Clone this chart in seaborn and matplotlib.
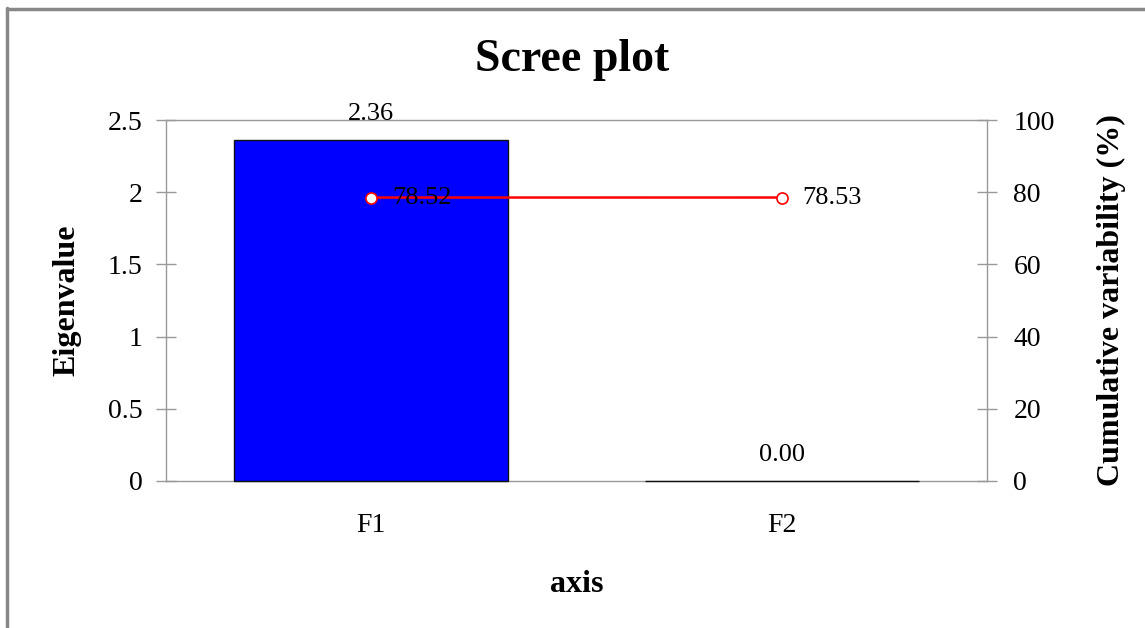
import matplotlib
matplotlib.use("Agg")
import matplotlib.pyplot as plt
import seaborn as sns
import numpy as np
import pandas as pd
from matplotlib.lines import Line2D

# ---- data ----
factors = ["F1", "F2"]
eigenvalues = [2.36, 0.00]
cumulative_pct = [78.52, 78.53]
eig_labels = ["2.36", "0.00"]
cum_labels = ["78.52", "78.53"]

sns.set_theme(style="white")
plt.rcParams["font.family"] = ["Liberation Serif", "DejaVu Serif"]
plt.rcParams["text.color"] = "black"
plt.rcParams["axes.labelcolor"] = "black"
plt.rcParams["xtick.color"] = "black"
plt.rcParams["ytick.color"] = "black"

fig = plt.figure(figsize=(11.45, 6.28), dpi=100)
ax = fig.add_axes([166/1145, 1-481/628, (987-166)/1145, (481-120)/628])

df = pd.DataFrame({"axis": factors, "eig": eigenvalues})
sns.barplot(data=df, x="axis", y="eig", color="#0000FF", saturation=1,
            edgecolor="black", linewidth=1.0, width=0.667, ax=ax)
for p in ax.patches:
    p.set_facecolor("#0000FF")
    p.set_edgecolor("#111111")
    p.set_zorder(3)
    p.set_clip_on(False)

ax.set_xlim(-0.5, 1.5)
ax.set_ylim(0, 2.5)
ax.set_yticks([0, 0.5, 1, 1.5, 2, 2.5])
ax.set_yticklabels(["0", "0.5", "1", "1.5", "2", "2.5"])
ax.set_xticks([-0.5, 0.5, 1.5])
ax.set_xticklabels(["", "", ""])
ax.set_xticks([0, 1], minor=True)
ax.set_xticklabels(factors, minor=True)
ax.tick_params(axis="x", which="minor", length=0, labelsize=20, pad=23, labelcolor="black")
ax.tick_params(axis="x", which="major", direction="inout", length=12, width=1, color="#999999")
ax.tick_params(axis="y", direction="inout", length=14, width=1, color="#999999",
               labelsize=20, pad=10, left=True, labelcolor="black")

for s in ax.spines.values():
    s.set_color("#999999")
    s.set_linewidth(1.0)

for i, (v, lab) in enumerate(zip(eigenvalues, eig_labels)):
    ax.annotate(lab, (i, v), xytext=(0, 19), textcoords="offset points",
                ha="center", va="center", fontsize=19, color="black")

ax.set_xlabel("axis", fontsize=23, fontweight="bold", labelpad=23, color="black")
ax.set_ylabel("Eigenvalue", fontsize=23, fontweight="bold", labelpad=19, color="black")

ax2 = ax.twinx()
sns.lineplot(x=np.arange(len(factors)), y=cumulative_pct, ax=ax2, color="#FF0000",
             linewidth=1.8, marker="o", markersize=8, markerfacecolor="white",
             markeredgecolor="#FF0000", markeredgewidth=1.2)
ax2.set_ylim(0, 100)
ax2.set_yticks([0, 20, 40, 60, 80, 100])
ax2.set_yticklabels(["0", "20", "40", "60", "80", "100"])
ax2.tick_params(axis="y", direction="inout", length=14, width=1, color="#999999",
                labelsize=20, pad=12, right=True, labelcolor="black")
for s in ax2.spines.values():
    s.set_visible(False)
ax2.set_ylabel("Cumulative variability (%)", fontsize=23, fontweight="bold",
               labelpad=30, color="black")
ax2.set_xlim(-0.5, 1.5)

for i, (v, lab) in enumerate(zip(cumulative_pct, cum_labels)):
    ax2.annotate(lab, (i, v), xytext=(15, 0), textcoords="offset points",
                 ha="left", va="center", fontsize=19, color="black")

fig.suptitle("Scree plot", fontsize=33, fontweight="bold", y=1-60/628, va="center",
             color="black")

# outer frame (left and top edges visible)
fig.add_artist(Line2D([7/1145, 7/1145], [0, 1-8/628], transform=fig.transFigure,
                      color="#888888", linewidth=2.5))
fig.add_artist(Line2D([7/1145, 1], [1-9/628, 1-9/628], transform=fig.transFigure,
                      color="#888888", linewidth=2.5))

fig.savefig("out.png", dpi=100)
